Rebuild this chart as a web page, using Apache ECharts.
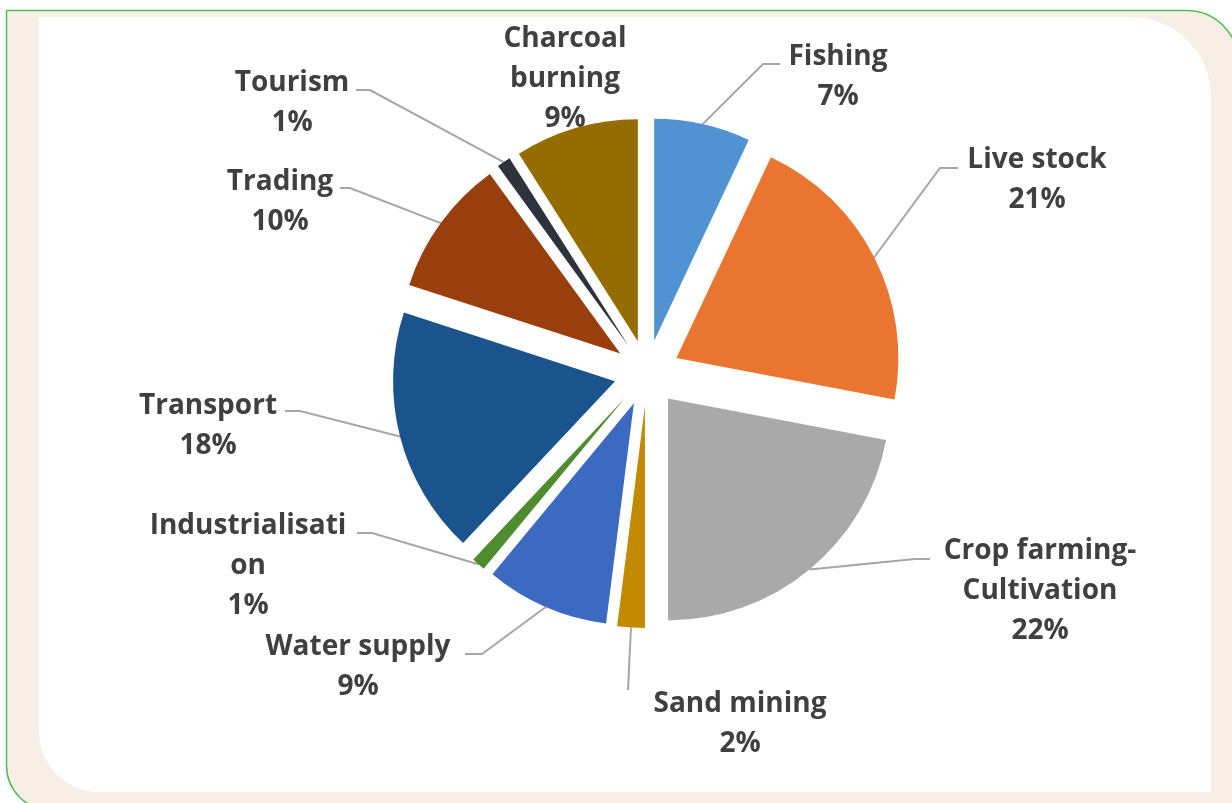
<!DOCTYPE html>
<html><head><meta charset="utf-8">
<script src="https://cdn.jsdelivr.net/npm/echarts@6/dist/echarts.min.js"></script>
<style>html,body{margin:0;padding:0;background:#fff;overflow:hidden}#c{width:1232px;height:803px}</style>
</head><body><div id="c"></div>
<script>
// ---- data ----
const categories = ['Fishing', 'Live stock', 'Crop farming-Cultivation', 'Sand mining', 'Water supply',
  'Industrialisation', 'Transport', 'Trading', 'Tourism', 'Charcoal burning'];
const labelText = ['Fishing', 'Live stock', 'Crop farming-\nCultivation', 'Sand mining', 'Water supply',
  'Industrialisati\non', 'Transport', 'Trading', 'Tourism', 'Charcoal\nburning'];
const shares = [7, 21, 22, 2, 9, 1, 18, 10, 1, 9];

// ---- styles / layout ----
const sliceColors = ['#5192D2', '#E97530', '#A9A9A9', '#C28A00', '#3D6AC1', '#4F8C2F', '#1B548D', '#993F0E', '#2E323D', '#946C00'];
const CX = 647, CY = 373, R = 222, OFF = 33;
const labelCenters = [[838, 77], [1037, 180], [1040, 591], [740, 724], [358, 667], [248, 566], [208, 426], [280, 202], [292, 103], [565, 79]];
const leaderTails = [[[763, 64], [780, 64]], [[940, 168], [958, 168]], [[915, 559], [930, 559]], [[628, 690]],
  [[482, 654], [465, 654]], [[372, 533], [357, 533]], [[300, 411], [285, 411]], [[350, 188], [340, 188]], [[370, 90], [356, 90]], null];

const total = shares.reduce((a, b) => a + b, 0);
const midAngles = [];
let acc = 0;
shares.forEach(v => { midAngles.push((acc + v / 2) / total * 2 * Math.PI); acc += v; });

const NONE = 'rgba(0,0,0,0)';
// one pie per slice, each shifted outward along its own mid angle (exploded pie)
const series = categories.map((cat, i) => ({
  type: 'pie',
  name: cat,
  center: [CX + OFF * Math.sin(midAngles[i]), CY - OFF * Math.cos(midAngles[i])],
  radius: R,
  startAngle: 90,
  clockwise: true,
  avoidLabelOverlap: false,
  percentPrecision: 0,
  silent: true,
  emphasis: { disabled: true },
  label: {
    show: false,
    formatter: p => labelText[p.dataIndex] + '\n' + p.percent + '%',
    fontFamily: 'Open Sans',
    fontWeight: 'bold',
    fontSize: 28,
    lineHeight: 40,
    color: '#404040',
    align: 'center'
  },
  labelLine: { show: false, lineStyle: { color: '#A6A6A6', width: 2 } },
  labelLayout: function (params) {
    const j = params.dataIndex;
    if (j !== i) return {};
    const a = midAngles[j];
    const start = [CX + (R + OFF) * Math.sin(a), CY - (R + OFF) * Math.cos(a)];
    const out = { x: labelCenters[j][0], y: labelCenters[j][1], align: 'center', verticalAlign: 'middle' };
    if (leaderTails[j]) out.labelLinePoints = [start].concat(leaderTails[j]);
    return out;
  },
  data: categories.map((c, j) => ({
    name: c, value: shares[j],
    itemStyle: { color: j === i ? sliceColors[j] : NONE },
    label: { show: j === i },
    labelLine: { show: j === i && !!leaderTails[j] }
  }))
}));

const chart = echarts.init(document.getElementById('c'), null, { renderer: 'canvas' });
chart.setOption({
  animation: false,
  backgroundColor: '#ffffff',
  graphic: [
    { type: 'rect', z: -10, silent: true,
      shape: { x: 6.5, y: 10.5, width: 1232, height: 800, r: [0, 52, 0, 45] },
      style: { fill: '#F7EFE5', stroke: '#55BB55', lineWidth: 1.5 } },
    { type: 'rect', z: -9, silent: true,
      shape: { x: 39, y: 17, width: 1172, height: 775, r: [0, 80, 0, 60] },
      style: { fill: '#ffffff' } }
  ],
  series: series
});
</script></body></html>
